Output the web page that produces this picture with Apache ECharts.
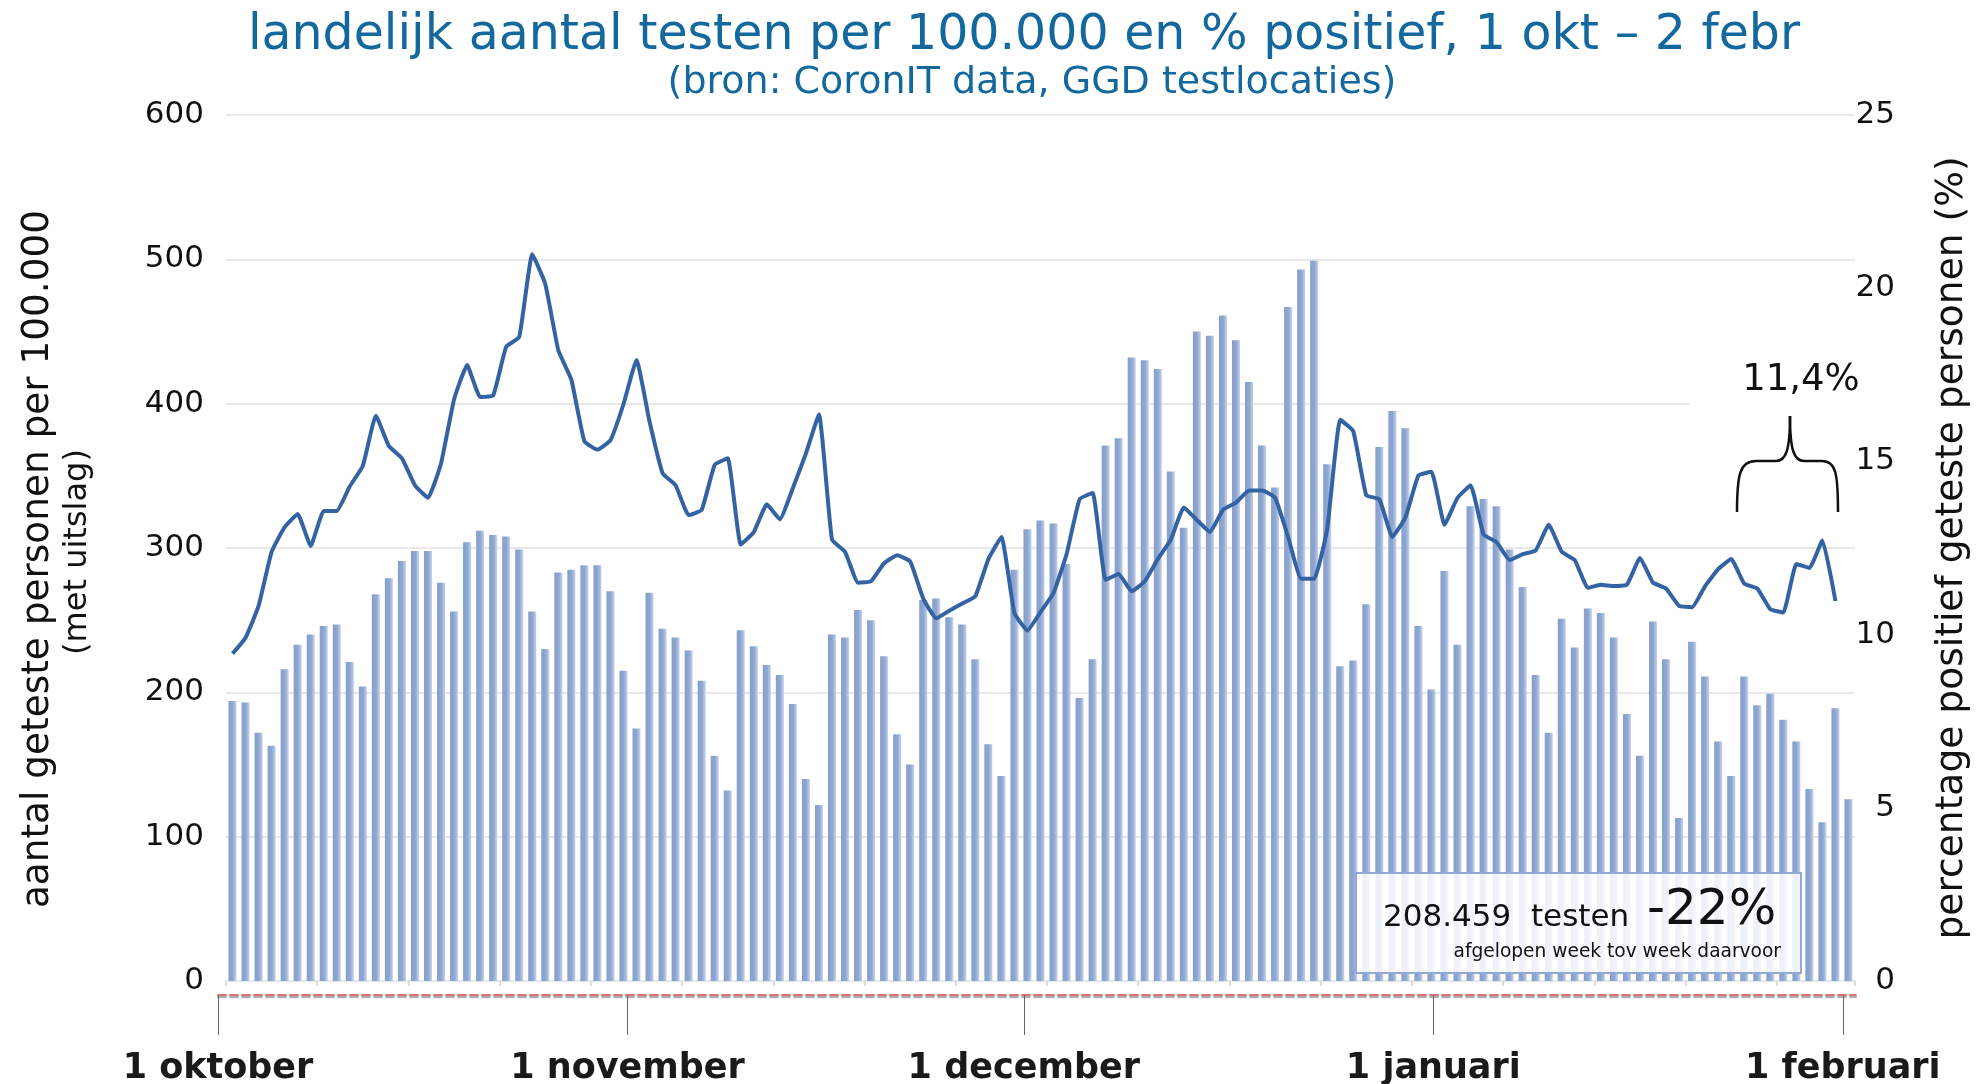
<!DOCTYPE html>
<html>
<head>
<meta charset="utf-8">
<script src="https://cdn.jsdelivr.net/npm/echarts@6/dist/echarts.min.js"></script>
<style>
html,body{margin:0;padding:0;background:#fff;}
#chart{width:1977px;height:1084px;}
</style>
</head>
<body>
<div id="chart"></div>
<script>
// ---- data ----
const startDate = Date.UTC(2020, 9, 1);
const dayCount = 125; // 1 okt 2020 .. 2 febr 2021
const dates = [];
for (let i = 0; i < dayCount; i++) {
  dates.push(new Date(startDate + i * 86400000).toISOString().slice(0, 10));
}

// tests per 100.000 (bars)
const testsPer100k = [
  194, 193, 172, 163, 216, 233, 240, 246, 247, 221, 204, 268, 279, 291, 298, 298, 276, 256, 304, 312, 309,
  308, 299, 256, 230, 283, 285, 288, 288, 270, 215, 175, 269, 244, 238, 229, 208, 156, 132, 243, 232, 219, 212,
  192, 140, 122, 240, 238, 257, 250, 225, 171, 150, 264, 265, 252, 247, 223, 164, 142, 285, 313, 319, 317,
  289, 196, 223, 371, 376, 432, 430, 424, 353, 314, 450, 447, 461, 444, 415, 371, 342, 467, 493, 499, 358, 218,
  222, 261, 370, 395, 383, 246, 202, 284, 233, 329, 334, 329, 299, 273, 212, 172, 251, 231, 258, 255, 238,
  185, 156, 249, 223, 113, 235, 211, 166, 142, 211, 191, 199, 181, 166, 133, 110, 189, 126
];

// % positief (line)
const pctPositive = [
  9.45, 9.91, 10.83, 12.39, 13.1, 13.48, 12.56, 13.57, 13.57, 14.28, 14.87, 16.32, 15.44, 15.09, 14.31, 13.95, 14.94, 16.79, 17.78, 16.86, 16.9,
  18.31, 18.59, 20.98, 20.12, 18.21, 17.36, 15.58, 15.34, 15.61, 16.65, 17.93, 16.15, 14.66, 14.31, 13.45, 13.6, 14.9, 15.09, 12.6, 12.96, 13.76, 13.33,
  14.23, 15.23, 16.36, 12.74, 12.39, 11.5, 11.54, 12.06, 12.29, 12.11, 11.04, 10.47, 10.69, 10.9, 11.11, 12.18, 12.82, 10.62, 10.12, 10.65, 11.2,
  12.32, 13.91, 14.09, 11.58, 11.75, 11.25, 11.54, 12.18, 12.74, 13.67, 13.31, 12.96, 13.6, 13.81, 14.16, 14.16, 13.95, 12.82, 11.61, 11.61, 13.05, 16.2,
  15.87, 14.02, 13.91, 12.82, 13.38, 14.59, 14.7, 13.17, 13.95, 14.31, 12.89, 12.67, 12.15, 12.32, 12.43, 13.17, 12.39, 12.15, 11.35, 11.44, 11.4,
  11.44, 12.21, 11.5, 11.33, 10.83, 10.79, 11.4, 11.89, 12.18, 11.47, 11.33, 10.73, 10.64, 12.04, 11.92, 12.72, 10.97, null
];

// month tick labels of the date axis
const tickDates = ['2020-10-01', '2020-11-01', '2020-12-01', '2021-01-01', '2021-02-01'];
const tickLabels = ['1 oktober', '1 november', '1 december', '1 januari', '1 februari'];

const FONT = 'DejaVu Sans';
const chart = echarts.init(document.getElementById('chart'), null, { renderer: 'canvas' });

const braceStyle = { stroke: '#111', lineWidth: 2.5, fill: null };

const option = {
  animation: false,
  backgroundColor: '#ffffff',
  textStyle: { fontFamily: FONT },
  title: [
    {
      text: 'landelijk aantal testen per 100.000 en % positief, 1 okt – 2 febr',
      left: 1019, top: 7, textAlign: 'center',
      textStyle: { fontFamily: FONT, fontSize: 49, fontWeight: 'normal', color: '#13689d' }
    },
    {
      text: '(bron: CoronIT data, GGD testlocaties)',
      left: 1027, top: 59, textAlign: 'center',
      textStyle: { fontFamily: FONT, fontSize: 38, fontWeight: 'normal', color: '#13689d' }
    }
  ],
  grid: [
    { left: 226, width: 1629, top: 115, height: 866, outerBoundsMode: 'none', containLabel: false },
    { left: 218, width: 1638, top: 985, height: 10, outerBoundsMode: 'none', containLabel: false }
  ],
  xAxis: [
    {
      type: 'category', gridIndex: 0, data: dates, boundaryGap: true,
      axisLine: { show: false },
      axisTick: { show: true, interval: 6, length: 5, lineStyle: { color: '#dcdcdc', width: 2 } },
      axisLabel: { show: false },
      splitLine: { show: false }
    },
    {
      type: 'category', gridIndex: 1, data: dates, boundaryGap: false,
      axisLine: { show: true, lineStyle: { color: '#e07070', type: 'dashed', width: 2, shadowColor: 'rgba(0,0,0,0.35)', shadowOffsetY: 2, shadowBlur: 1 } },
      axisTick: {
        show: true, length: 40,
        interval: (i, v) => tickDates.indexOf(v) >= 0,
        lineStyle: { color: '#666', width: 1 }
      },
      axisLabel: {
        show: true,
        interval: (i, v) => tickDates.indexOf(v) >= 0,
        formatter: v => tickLabels[tickDates.indexOf(v)] || '',
        fontFamily: FONT, fontSize: 35, fontWeight: 'bold', color: '#1a1a1a', margin: 56
      },
      splitLine: { show: false }
    }
  ],
  yAxis: [
    {
      type: 'value', gridIndex: 0, min: 0, max: 600, interval: 100,
      axisLine: { show: false }, axisTick: { show: false },
      axisLabel: { fontFamily: FONT, fontSize: 31, color: '#111', margin: 22 },
      splitLine: { show: true, lineStyle: { color: '#e8e8e8', width: 2 } }
    },
    {
      type: 'value', gridIndex: 0, position: 'right', min: 0, max: 25, interval: 5,
      axisLine: { show: false }, axisTick: { show: false },
      axisLabel: { fontFamily: FONT, fontSize: 31, color: '#111', margin: 40, align: 'right' },
      splitLine: { show: false }
    },
    { type: 'value', gridIndex: 1, show: false }
  ],
  series: [
    {
      name: 'testen per 100.000', type: 'bar', xAxisIndex: 0, yAxisIndex: 0,
      data: testsPer100k, barWidth: 8,
      itemStyle: {
        color: {
          type: 'linear', x: 0, y: 0, x2: 1, y2: 0,
          colorStops: [
            { offset: 0, color: '#859ecb' },
            { offset: 0.55, color: '#90a7d2' },
            { offset: 1, color: '#c6d3ea' }
          ]
        }
      }
    },
    {
      name: '% positief', type: 'line', xAxisIndex: 0, yAxisIndex: 1,
      data: pctPositive, symbol: 'none', smooth: 0.12, connectNulls: false,
      lineStyle: { color: '#3463a4', width: 4 }
    }
  ],
  graphic: [
    // axis titles
    {
      type: 'text', x: 38, y: 559, rotation: Math.PI / 2,
      style: { text: 'aantal geteste personen per 100.000', fill: '#111', font: '37.4px "DejaVu Sans"', align: 'center', verticalAlign: 'middle' }
    },
    {
      type: 'text', x: 78, y: 552, rotation: Math.PI / 2,
      style: { text: '(met uitslag)', fill: '#111', font: '32px "DejaVu Sans"', align: 'center', verticalAlign: 'middle' }
    },
    {
      type: 'text', x: 1952, y: 548, rotation: Math.PI / 2,
      style: { text: 'percentage positief geteste personen (%)', fill: '#111', font: '37.6px "DejaVu Sans"', align: 'center', verticalAlign: 'middle' }
    },
    // white patch behind the brace annotation
    {
      type: 'rect', shape: { x: 1690, y: 330, width: 166, height: 190 },
      style: { fill: '#ffffff' }, z: 5
    },
    // curly brace
    { type: 'bezierCurve', z: 6, shape: { x1: 1737, y1: 512, cpx1: 1737, cpy1: 474, cpx2: 1740, cpy2: 461, x2: 1756, y2: 461 }, style: braceStyle },
    { type: 'line', z: 6, shape: { x1: 1756, y1: 461, x2: 1776, y2: 461 }, style: braceStyle },
    { type: 'bezierCurve', z: 6, shape: { x1: 1776, y1: 461, cpx1: 1786, cpy1: 461, cpx2: 1790, cpy2: 450, x2: 1790, y2: 416 }, style: braceStyle },
    { type: 'bezierCurve', z: 6, shape: { x1: 1790, y1: 416, cpx1: 1790, cpy1: 450, cpx2: 1794, cpy2: 461, x2: 1804, y2: 461 }, style: braceStyle },
    { type: 'line', z: 6, shape: { x1: 1804, y1: 461, x2: 1822, y2: 461 }, style: braceStyle },
    { type: 'bezierCurve', z: 6, shape: { x1: 1822, y1: 461, cpx1: 1836, cpy1: 461, cpx2: 1838, cpy2: 474, x2: 1838, y2: 512 }, style: braceStyle },
    {
      type: 'text', x: 1801, y: 380, z: 6,
      style: { text: '11,4%', fill: '#111', font: '37px "DejaVu Sans"', align: 'center', verticalAlign: 'middle' }
    },
    // info box
    {
      type: 'rect', shape: { x: 1356, y: 873, width: 445, height: 100 }, z: 5,
      style: { fill: 'rgba(255,255,255,0.85)', stroke: '#93a8d4', lineWidth: 2 }
    },
    {
      type: 'text', x: 1383, y: 918, z: 6,
      style: { text: '208.459  testen', fill: '#111', font: '31px "DejaVu Sans"', align: 'left', verticalAlign: 'middle' }
    },
    {
      type: 'text', x: 1647, y: 911, z: 6,
      style: { text: '-22%', fill: '#111', font: '50px "DejaVu Sans"', align: 'left', verticalAlign: 'middle' }
    },
    {
      type: 'text', x: 1781, y: 952, z: 6,
      style: { text: 'afgelopen week tov week daarvoor', fill: '#111', font: '18.6px "DejaVu Sans"', align: 'right', verticalAlign: 'middle' }
    }
  ]
};
chart.setOption(option);
</script>
</body>
</html>
